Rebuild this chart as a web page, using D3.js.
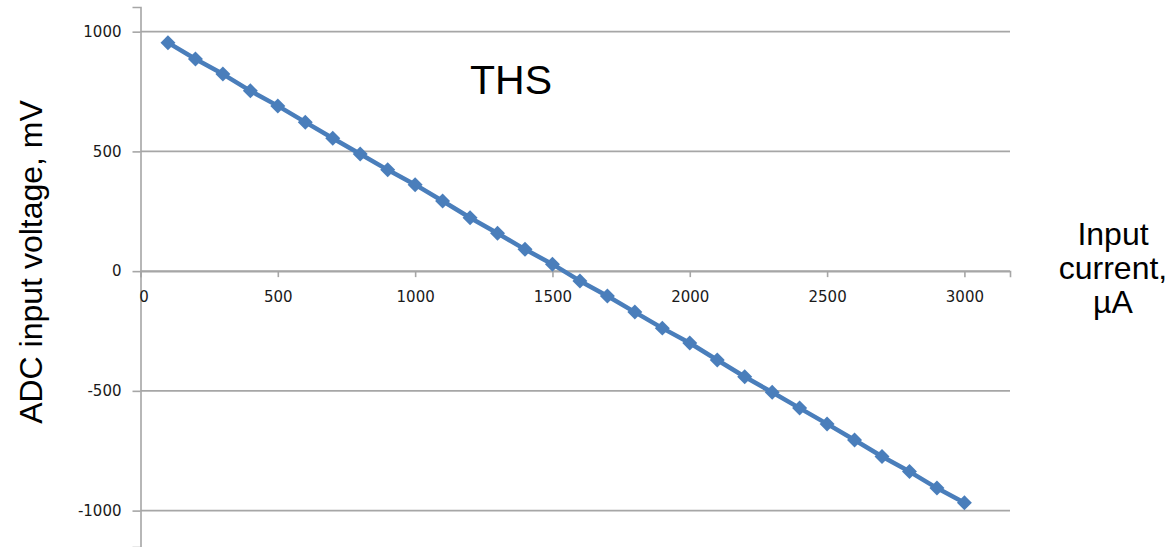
<!DOCTYPE html>
<html>
<head>
<meta charset="utf-8">
<script src="https://cdn.jsdelivr.net/npm/d3@7"></script>
<style>
  html, body { margin: 0; padding: 0; background: #fff; }
  svg { display: block; }
</style>
</head>
<body>
<svg id="chart" width="1169" height="547"></svg>
<script>
// Input current (µA) and measured ADC input voltage (mV)
const currents = [100, 200, 300, 400, 500, 600, 700, 800, 900, 1000,
                  1100, 1200, 1300, 1400, 1500, 1600, 1700, 1800, 1900, 2000,
                  2100, 2200, 2300, 2400, 2500, 2600, 2700, 2800, 2900, 3000];
const voltages = [954, 886, 823, 753, 690, 622, 555, 489, 423, 361,
                  293, 223, 158, 91, 29, -41, -104, -171, -238, -300,
                  -371, -441, -506, -572, -638, -705, -774, -837, -906, -967];
const xTicks = [0, 500, 1000, 1500, 2000, 2500, 3000];
const yTicks = [-1000, -500, 0, 500, 1000];

const svg = d3.select("#chart");
const tickFont = "DejaVu Sans, Verdana, sans-serif";
const labelFont = "Liberation Sans, Arial, sans-serif";
const gridColor = "#a6a6a6";
const lineColor = "#4a7ebb";
const plainNumber = d => String(d);

const x = d3.scaleLinear().domain([0, 3166]).range([140.5, 1010]);
const y = d3.scaleLinear().domain([-1152, 1103]).range([547, 7]);

// horizontal gridlines
svg.append("g")
  .selectAll("line")
  .data(yTicks)
  .join("line")
  .attr("x1", x(0)).attr("x2", x.range()[1])
  .attr("y1", d => y(d)).attr("y2", d => y(d))
  .attr("stroke", gridColor).attr("stroke-width", 1.6);

// vertical axis
const yAxis = svg.append("g")
  .attr("transform", `translate(${x(0)},0)`)
  .call(d3.axisLeft(y).tickValues(yTicks).tickSize(8).tickPadding(11).tickFormat(plainNumber));
yAxis.select(".domain").attr("stroke", gridColor).attr("stroke-width", 1.6);
yAxis.selectAll(".tick line").attr("stroke", gridColor).attr("stroke-width", 1.6);
yAxis.selectAll("text")
  .attr("font-family", tickFont).attr("font-size", 15).attr("fill", "#1a1a1a");

// horizontal axis at zero voltage
const xAxis = svg.append("g")
  .attr("transform", `translate(0,${y(0)})`)
  .call(d3.axisBottom(x).tickValues(xTicks).tickSize(6).tickPadding(14).tickFormat(plainNumber));
xAxis.select(".domain").attr("stroke", gridColor).attr("stroke-width", 1.6);
xAxis.selectAll(".tick line").attr("stroke", gridColor).attr("stroke-width", 1.6);
xAxis.selectAll("text")
  .attr("font-family", tickFont).attr("font-size", 15).attr("fill", "#1a1a1a");
xAxis.selectAll(".tick").filter(d => d === 0).select("text").attr("dx", 3);

// measurement series
const points = currents.map((c, i) => ({ c, v: voltages[i] }));
svg.append("path")
  .datum(points)
  .attr("fill", "none")
  .attr("stroke", lineColor)
  .attr("stroke-width", 4.5)
  .attr("stroke-linejoin", "round")
  .attr("d", d3.line().x(d => x(d.c)).y(d => y(d.v)));

// diamond markers: a square turned 45 degrees
const marker = d3.symbol().type(d3.symbolSquare).size(112);
svg.append("g")
  .selectAll("path")
  .data(points)
  .join("path")
  .attr("transform", d => `translate(${x(d.c)},${y(d.v)}) rotate(45)`)
  .attr("d", marker)
  .attr("fill", lineColor);

// titles
svg.append("text")
  .attr("x", 511).attr("y", 94)
  .attr("text-anchor", "middle")
  .attr("font-family", labelFont).attr("font-size", 41).attr("fill", "#000")
  .text("THS");

svg.append("text")
  .attr("transform", "translate(42,262) rotate(-90)")
  .attr("text-anchor", "middle")
  .attr("font-family", labelFont).attr("font-size", 32).attr("fill", "#000")
  .text("ADC input voltage, mV");

const xTitle = svg.append("text")
  .attr("text-anchor", "middle")
  .attr("font-family", labelFont).attr("font-size", 32).attr("fill", "#000");
["Input", "current,", "µA"].forEach((t, i) => {
  xTitle.append("tspan").attr("x", 1113).attr("y", 245 + i * 34).text(t);
});
</script>
</body>
</html>
